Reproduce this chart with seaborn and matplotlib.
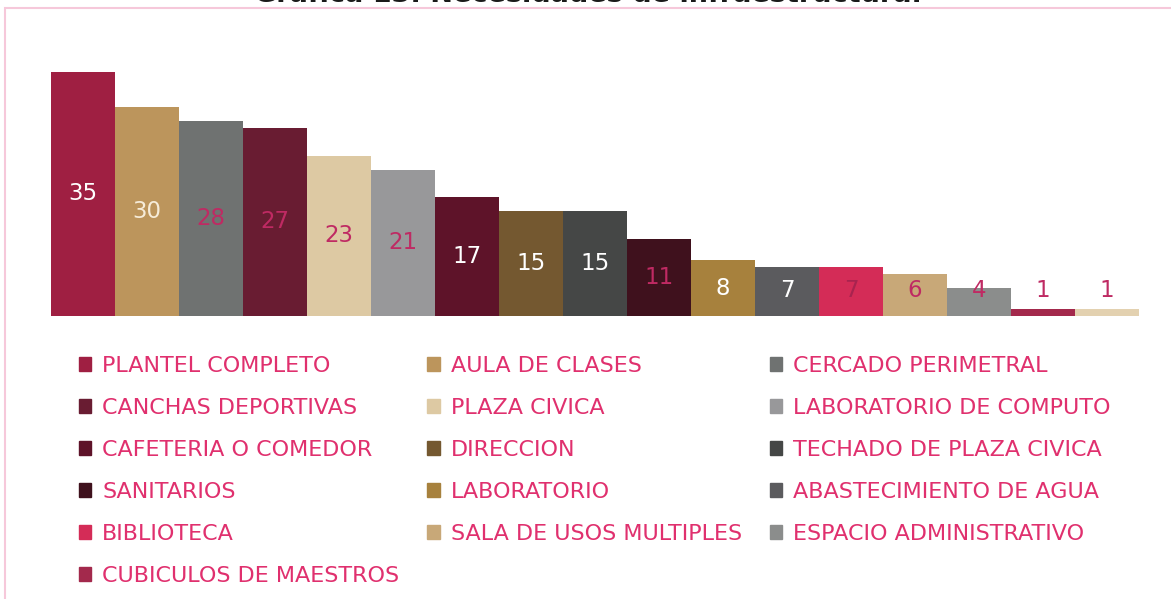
import matplotlib
matplotlib.use("Agg")
import matplotlib.pyplot as plt
import matplotlib.patches as mpatches
import seaborn as sns
import pandas as pd

# data
categories = [
    "PLANTEL COMPLETO", "AULA DE CLASES", "CERCADO PERIMETRAL",
    "CANCHAS DEPORTIVAS", "PLAZA CIVICA", "LABORATORIO DE COMPUTO",
    "CAFETERIA O COMEDOR", "DIRECCION", "TECHADO DE PLAZA CIVICA",
    "SANITARIOS", "LABORATORIO", "ABASTECIMIENTO DE AGUA",
    "BIBLIOTECA", "SALA DE USOS MULTIPLES", "ESPACIO ADMINISTRATIVO",
    "CUBICULOS DE MAESTROS", "OTRO",
]
values = [35, 30, 28, 27, 23, 21, 17, 15, 15, 11, 8, 7, 7, 6, 4, 1, 1]
bar_colors = [
    "#9f1f42", "#bc955c", "#6f7271", "#691c32", "#ddc9a3", "#98989a",
    "#5e1329", "#745830", "#454746", "#3f111d", "#a7813d", "#5b5b5e",
    "#d42c57", "#c8a878", "#8b8d8c", "#a3294c", "#e3d1b0",
]
label_colors = [
    "white", "#f6ecd9", "#bf2a63", "#bf2a63", "#bf2a63", "#bf2a63",
    "white", "white", "white", "#bf2a63", "white", "white",
    "#a8234f", "#bf2a63", "#bf2a63", "#bf2a63", "#bf2a63",
]
legend_names = categories[:16]  # last bar has no legend entry in the original

PINK = "#e0306e"

df = pd.DataFrame({"categoria": categories, "valor": values})

sns.set_theme(style="white")
plt.rcParams["font.family"] = ["DejaVu Sans"]

fig = plt.figure(figsize=(11.71, 5.99), dpi=100)
ax = fig.add_axes([51 / 1171, (599 - 316) / 599, 1088 / 1171, (316 - 72) / 599])

sns.barplot(data=df, x="categoria", y="valor", hue="categoria",
            palette=dict(zip(categories, bar_colors)), width=1.0,
            dodge=False, legend=False, saturation=1, linewidth=0, ax=ax)

for i, (v, c) in enumerate(zip(values, label_colors)):
    ax.text(i, max(v / 2, 3.7), str(v), ha="center", va="center",
            fontsize=16.5, color=c)

ax.set_xlim(-0.5, len(values) - 0.5)
ax.set_ylim(0, max(values))
ax.set_axis_off()

# legend, filled row by row like the original
handles = [mpatches.Patch(color=c, label=n) for n, c in zip(legend_names, bar_colors)]
ncol = 3
order = [i for col in range(ncol) for i in range(col, len(handles), ncol)]
leg = fig.legend([handles[i] for i in order], [legend_names[i] for i in order],
                 ncol=ncol, loc="upper left", bbox_to_anchor=(79 / 1171, 1 - 356 / 599),
                 frameon=False, fontsize=16, handlelength=0.55, handleheight=0.55,
                 handletextpad=0.5, labelspacing=0.99, columnspacing=1.26,
                 borderpad=0, borderaxespad=0)
for t in leg.get_texts():
    t.set_color(PINK)

# outer pink frame (only top and left edges visible)
frame = mpatches.Rectangle((5.5 / 1171, -0.2), 1.2, 1.2 - 8 / 599,
                           transform=fig.transFigure, fill=False,
                           edgecolor="#f6c8da", lw=1.5)
fig.patches.append(frame)

# title, cut at the top edge in the reference
fig.text(588 / 1171, 1 - 2 / 599, "Gráfica 13. Necesidades de infraestructura.",
         ha="center", va="baseline", fontsize=19.5, fontweight="bold", color="#1a1a1a")

fig.savefig("out.png", dpi=100)
